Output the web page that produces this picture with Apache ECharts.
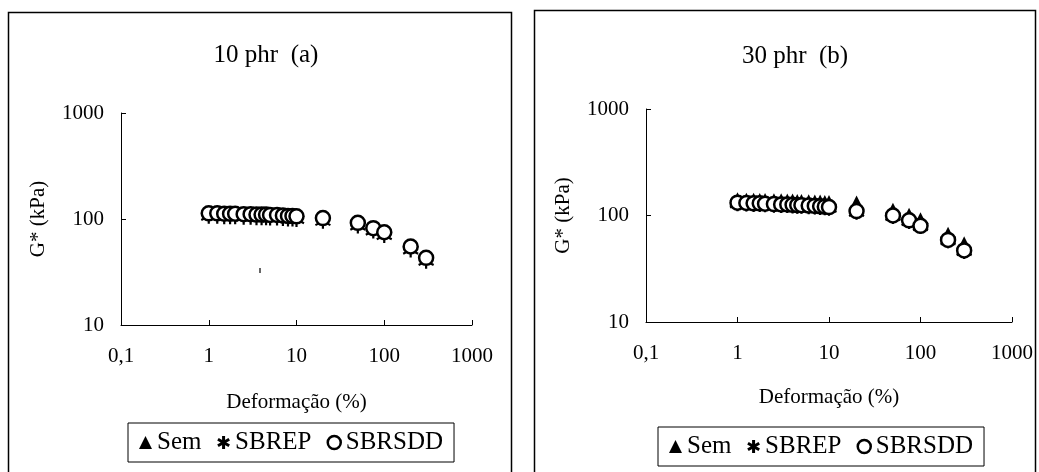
<!DOCTYPE html>
<html><head><meta charset="utf-8">
<script src="https://cdn.jsdelivr.net/npm/echarts@6/dist/echarts.min.js"></script>
<style>html,body{margin:0;padding:0;background:#fff}#c{width:1039px;height:472px}</style>
</head><body><div id="c"></div>
<script>
// ---- data ----
const strain = [1,1.25,1.5,1.75,2,2.5,3,3.5,4,4.5,5,6,7,8,9,10,20,50,75,100,200,300];
const titleA = '10 phr  (a)';
const titleB = '30 phr  (b)';
const seriesNames = ['Sem','SBREP','SBRSDD'];
// chart (a) 10 phr
const semA    = [112,112,112,111,111,111,110,110,109,109,109,108,108,107,106,106,101,91,82,75,55,43];
const sbrepA  = [106,106,105,105,105,104,104,103,103,103,102,102,101,100,100,99,95,86,77,70,51,40];
const sbrsddA = [113,113,112,112,112,111,111,110,110,110,109,109,108,107,107,106,102,92,82,75,55,43];
// chart (b) 30 phr
const semB    = [145,144,144,143,143,142,142,141,141,140,140,139,138,138,137,137,135,116,104,94,69,56];
const sbrepB  = [129,128,127,127,126,125,124,124,123,122,122,121,120,119,118,117,107,98,88,79,58,46];
const sbrsddB = [132,131,130,130,129,128,127,127,126,125,125,124,123,122,121,120,110,100,90,80,59,47];
const xTickLabels = ['0,1','1','10','100','1000'];
const yTickLabels = ['10','100','1000'];

const FONT = '"Liberation Serif","Times New Roman",serif';
const ASTER = 'path://M0,-1L0,1M-0.866,-0.5L0.866,0.5M-0.866,0.5L0.866,-0.5';

function pts(arr){ return strain.map((x,i)=>[x,arr[i]]); }
function decIdx(v, first){ return Math.round(Math.log10(v) - Math.log10(first)); }

function xAxis(gi){
  return {
    gridIndex: gi, type:'log', logBase:10, min:0.1, max:1000,
    name:'Deformação (%)', nameLocation:'middle', nameGap: gi===0?67:65,
    nameTextStyle:{fontFamily:FONT,fontSize:21,color:'#000'},
    axisLine:{lineStyle:{color:'#000',width:1}},
    axisTick:{inside:true,length:5,lineStyle:{color:'#000'}},
    minorTick:{show:false},
    splitLine:{show:false},
    axisLabel:{fontFamily:FONT,fontSize:21,color:'#000',margin:21,
      formatter:v=>xTickLabels[decIdx(v,0.1)]}
  };
}
function yAxis(gi){
  return {
    gridIndex: gi, type:'log', logBase:10, min:10, max:1000,
    name:'G* (kPa)', nameLocation:'middle', nameGap:72, nameRotate:90,
    nameTextStyle:{fontFamily:FONT,fontSize:21,color:'#000'},
    axisLine:{show:true,lineStyle:{color:'#000',width:1}},
    axisTick:{show:true,inside:true,length:5,lineStyle:{color:'#000'}},
    splitLine:{show:false},
    axisLabel:{fontFamily:FONT,fontSize:21,color:'#000',margin:17,
      formatter:v=>yTickLabels[decIdx(v,10)]}
  };
}
function mk(name, arr, gi){
  const base = {name, type:'scatter', xAxisIndex:gi, yAxisIndex:gi, data:pts(arr), z:2, emphasis:{disabled:true}};
  if(name==='Sem') return Object.assign(base,{symbol:'triangle', symbolSize: gi===0?10:12, itemStyle:{color:'#000',opacity:1}});
  if(name==='SBREP') return Object.assign(base,{symbol:ASTER, symbolSize:15, itemStyle:{color:'#000',borderColor:'#000',borderWidth:2.2,opacity:1}});
  return Object.assign(base,{symbol:'circle', symbolSize:14, itemStyle:{color:'#fff',borderColor:'#000',borderWidth:2.5,opacity:1}});
}
function legend(left, top){
  return {
    left, top, orient:'horizontal', itemWidth:13, itemHeight:13, itemGap:15,
    borderColor:'#000', borderWidth:1, padding:[7,11,7,11],
    textStyle:{fontFamily:FONT,fontSize:25,color:'#000'},
    data:[{name:'Sem',icon:'triangle',itemStyle:{color:'#000',opacity:1}},
          {name:'SBREP',icon:ASTER,itemStyle:{color:'#000',borderColor:'#000',borderWidth:3,opacity:1}},
          {name:'SBRSDD',icon:'circle',itemStyle:{color:'#fff',borderColor:'#000',borderWidth:2.5,opacity:1}}],
    selectedMode:false
  };
}

const chart = echarts.init(document.getElementById('c'), null, {renderer:'canvas'});
chart.setOption({
  backgroundColor:'#fff',
  animation:false,
  grid:[
    {left:121, top:113, width:351, height:212},
    {left:646, top:109, width:366, height:213}
  ],
  xAxis:[xAxis(0), xAxis(1)],
  yAxis:[yAxis(0), yAxis(1)],
  legend:[legend(128,423), legend(658,427)],
  graphic:[
    {type:'rect', shape:{x:8.5,y:12.5,width:503,height:480}, style:{fill:null,stroke:'#000',lineWidth:1.5}, silent:true},
    {type:'rect', shape:{x:534.5,y:10.5,width:501,height:480}, style:{fill:null,stroke:'#000',lineWidth:1.5}, silent:true},
    {type:'text', x:266, y:55, style:{text:titleA, font:'25px '+FONT, fill:'#000', align:'center', verticalAlign:'middle'}},
    {type:'text', x:795, y:56, style:{text:titleB, font:'25px '+FONT, fill:'#000', align:'center', verticalAlign:'middle'}},
    {type:'line', shape:{x1:260,y1:268,x2:260,y2:273}, style:{stroke:'#000',lineWidth:1.2}}
  ],
  series:[
    mk('Sem',semA,0), mk('SBREP',sbrepA,0), mk('SBRSDD',sbrsddA,0),
    mk('Sem',semB,1), mk('SBREP',sbrepB,1), mk('SBRSDD',sbrsddB,1)
  ]
});
</script>
</body></html>
